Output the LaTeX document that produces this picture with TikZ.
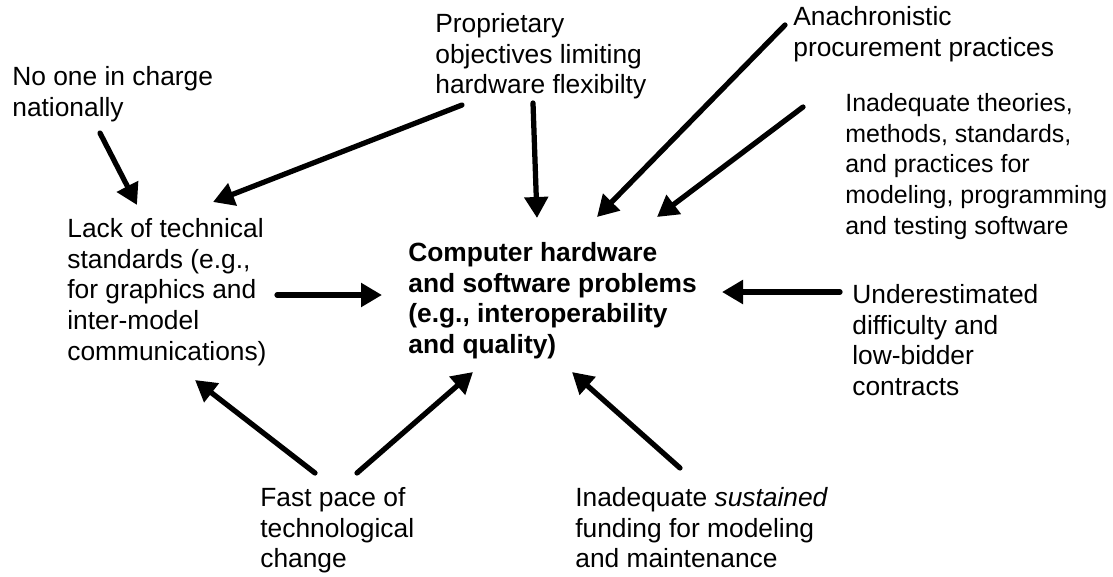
\documentclass[tikz,border=0pt]{standalone}
\usepackage{fontspec}
\setmainfont{Liberation Sans}
\usetikzlibrary{arrows.meta,calc}
\begin{document}
\begin{tikzpicture}[x=0.02cm, y=-0.02cm,
  txt/.style={anchor=north west, inner sep=0pt, align=left, font=\fontsize{15}{17.5}\selectfont},
  arrow/.style={-{Triangle[length=0.42cm, width=0.46cm]}, line width=0.105cm, line cap=round}
]
\useasboundingbox (0,0) rectangle (1113,576);
\node[txt] (A) at (12,66) {No one in charge\\nationally};
\node[txt] (B) at (435,13) {Proprietary\\objectives limiting\\hardware flexibilty};
\node[txt] (C) at (793,6) {Anachronistic\\procurement practices};
\node[txt, font=\fontsize{14.2}{17.5}\selectfont] (D) at (845,93) {Inadequate theories,\\methods, standards,\\and practices for\\modeling, programming\\and testing software};
\node[txt] (E) at (67,218) {Lack of technical\\standards (e.g.,\\for graphics and\\inter-model\\communications)};
\node[txt, font=\fontsize{15}{17.5}\selectfont\bfseries] (F) at (408,242) {Computer hardware\\and software problems\\(e.g., interoperability\\and quality)};
\node[txt] (G) at (852,284) {Underestimated\\difficulty and\\low-bidder\\contracts};
\node[txt] (H) at (260,487) {Fast pace of\\technological\\change};
\node[txt] (I) at (575,487) {Inadequate \textit{sustained}\\funding for modeling\\and maintenance};
% causes of the lack of standards
\draw[arrow] ($(A.north west)+(88,67)$) -- ($(E.north west)+(70,-13)$);
\draw[arrow] ($(B.north west)+(27,92)$) -- ($(E.north west)+(146,-16)$);
\draw[arrow] ($(H.north west)+(55,-14)$) -- ($(E.north west)+(128,162)$);
% causes of the central problem
\draw[arrow] ($(B.north west)+(98,90)$) -- ($(F.north west)+(129,-24)$);
\draw[arrow] ($(C.north west)+(-8,19)$) -- ($(F.north west)+(189,-25)$);
\draw[arrow] ($(D.north west)+(-42,14)$) -- ($(F.north west)+(249,-25)$);
\draw[arrow] ($(E.north west)+(210,77)$) -- ($(F.north west)+(-26,53)$);
\draw[arrow] ($(G.north west)+(-12,8)$) -- ($(F.north west)+(314,50)$);
\draw[arrow] ($(H.north west)+(97,-14)$) -- ($(F.north west)+(65,130)$);
\draw[arrow] ($(I.north west)+(105,-19)$) -- ($(F.north west)+(164,130)$);
\end{tikzpicture}
\end{document}
